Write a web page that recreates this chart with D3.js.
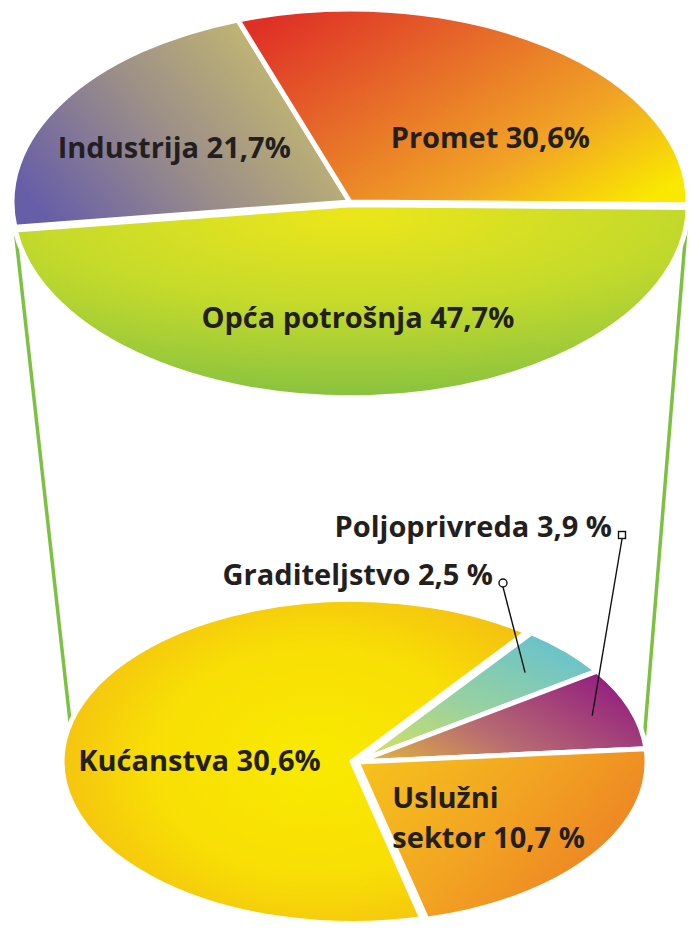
<!DOCTYPE html>
<html>
<head>
<meta charset="utf-8">
<script src="https://cdn.jsdelivr.net/npm/d3@7"></script>
<style>
  body { margin: 0; background: #fff; }
  text { font-family: "Open Sans", Roboto, sans-serif; font-weight: 700; fill: #231f20; }
</style>
</head>
<body>
<div id="chart"></div>
<script>
// top pie: energy use by sector
const topCategories = ["Industrija", "Promet", "Opća potrošnja"];
const topValues = [21.7, 30.6, 47.7];
const topLabels = [["Industrija 21,7%"], ["Promet 30,6%"], ["Opća potrošnja 47,7%"]];

// bottom pie: breakdown of "Opća potrošnja"
const subCategories = ["Graditeljstvo", "Poljoprivreda", "Uslužni sektor", "Kućanstva"];
const subValues = [2.5, 3.9, 10.7, 30.6];
const subLabels = [["Graditeljstvo 2,5 %"], ["Poljoprivreda 3,9 %"], ["Uslužni", "sektor 10,7 %"], ["Kućanstva 30,6%"]];

const W = 690, H = 930;
const rad = a => a * Math.PI / 180;

// ellipse layout (pie drawn as circle, squashed vertically)
const topPie = {cx: 350, cy: 202, rx: 338, ry: 193, start: -97.5};
const subPie = {cx: 357, cy: 762, rx: 290, ry: 162, start: 37};

const svg = d3.select("#chart").append("svg")
    .attr("width", W)
    .attr("height", H)
    .attr("viewBox", [0, 0, W, H]);

const defs = svg.append("defs");

function linear(id, x1, y1, x2, y2, stops) {
  const g = defs.append("linearGradient").attr("id", id)
      .attr("x1", x1).attr("y1", y1).attr("x2", x2).attr("y2", y2);
  stops.forEach(s => g.append("stop").attr("offset", s[0]).attr("stop-color", s[1]));
}
function radial(id, cx, cy, r, stops) {
  const g = defs.append("radialGradient").attr("id", id)
      .attr("cx", cx).attr("cy", cy).attr("r", r);
  stops.forEach(s => g.append("stop").attr("offset", s[0]).attr("stop-color", s[1]));
}

linear("g-ind", 0, 0.75, 1, 0.25, [[0, "#675ea8"], [0.45, "#9c8f88"], [1, "#cfc46a"]]);
linear("g-pro", 0, 0.15, 1, 0.85, [[0, "#df3026"], [0.35, "#e66a29"], [0.7, "#f1a325"], [1, "#f9e900"]]);
radial("g-opc", 0.5, 0.05, 0.95, [[0, "#ece61a"], [0.5, "#c4da2b"], [1, "#88c240"]]);
radial("g-kuc", 0.55, 0.5, 0.6, [[0, "#f9ea00"], [0.6, "#f8de05"], [1, "#f4bf12"]]);
linear("g-gra", 0.85, 0, 0.1, 1, [[0, "#63c1d0"], [0.55, "#98d1a0"], [1, "#d3e25e"]]);
linear("g-pol", 0, 0.9, 1, 0.35, [[0, "#e3b240"], [0.45, "#b66a72"], [1, "#95217f"]]);
linear("g-usl", 0, 0.1, 1, 0.6, [[0, "#f6c21c"], [0.5, "#f2a422"], [1, "#ec7f24"]]);

const topFill = ["url(#g-ind)", "url(#g-pro)", "url(#g-opc)"];
const subFill = ["url(#g-gra)", "url(#g-pol)", "url(#g-usl)", "url(#g-kuc)"];
const topExplode = [0, 0, 5];
const subExplode = [0, 0, 0, 5];

function ell(p, a, r) {
  return [p.cx + r * Math.sin(a), p.cy - r * Math.cos(a) * p.ry / p.rx];
}

function makePie(p, values) {
  return d3.pie().sort(null).value(d => d)
      .startAngle(rad(p.start)).endAngle(rad(p.start) + 2 * Math.PI)(values);
}

const topArcs = makePie(topPie, topValues);
const subArcs = makePie(subPie, subValues);

// green connector lines, behind the pies
const opca = topArcs[2];
const connectors = [
  [ell(topPie, opca.endAngle, topPie.rx), ell(subPie, rad(280), subPie.rx)],
  [ell(topPie, opca.startAngle, topPie.rx), ell(subPie, rad(82), subPie.rx)]
];
svg.append("g")
    .attr("stroke", "#7cc142")
    .attr("stroke-width", 3.5)
  .selectAll("line")
  .data(connectors)
  .join("line")
    .attr("x1", d => d[0][0]).attr("y1", d => d[0][1])
    .attr("x2", d => d[1][0]).attr("y2", d => d[1][1]);

function drawPie(p, arcs, fills, explode) {
  const arc = d3.arc().innerRadius(0).outerRadius(p.rx);
  svg.append("g")
      .attr("transform", `translate(${p.cx},${p.cy}) scale(1,${p.ry / p.rx})`)
    .selectAll("path")
    .data(arcs)
    .join("path")
      .attr("transform", (d, i) => {
        const m = (d.startAngle + d.endAngle) / 2;
        return `translate(${Math.sin(m) * explode[i]},${-Math.cos(m) * explode[i]})`;
      })
      .attr("d", arc)
      .attr("fill", (d, i) => fills[i])
      .attr("stroke", "#fff")
      .attr("stroke-width", 5)
      .attr("stroke-linejoin", "round")
      .attr("vector-effect", "non-scaling-stroke");
}

drawPie(topPie, topArcs, topFill, topExplode);
drawPie(subPie, subArcs, subFill, subExplode);

// labels: centroid at 60% radius, then nudged; one text per line
const fontSize = 29;
const lineGap = 40;
function label(p, d, lines, nudge, anchor) {
  const m = (d.startAngle + d.endAngle) / 2;
  const c = ell(p, m, p.rx * 0.6);
  lines.forEach((s, i) => svg.append("text")
      .attr("font-size", fontSize)
      .attr("text-anchor", anchor)
      .attr("x", c[0] + nudge[0])
      .attr("y", c[1] + nudge[1] + i * lineGap)
      .text(s));
}

const topNudge = [[-3, 17], [22, 40], [-4, 10]];
topArcs.forEach((d, i) => label(topPie, d, topLabels[i], topNudge[i], "middle"));

label(subPie, subArcs[3], subLabels[3], [13, 28], "middle");
label(subPie, subArcs[2], subLabels[2], [-106, -11], "start");

// callouts for the two thin slices
const callouts = [
  {i: 0, r: 0.8, at: [146, -179], shape: "circle"},
  {i: 1, r: 0.86, at: [265, -227], shape: "square"}
];
callouts.forEach(c => {
  const d = subArcs[c.i];
  const end = ell(subPie, (d.startAngle + d.endAngle) / 2, subPie.rx * c.r);
  const a = [subPie.cx + c.at[0], subPie.cy + c.at[1]];
  svg.append("line")
      .attr("x1", a[0]).attr("y1", a[1] + 4)
      .attr("x2", end[0]).attr("y2", end[1])
      .attr("stroke", "#111").attr("stroke-width", 1.4);
  if (c.shape === "circle") {
    svg.append("circle").attr("cx", a[0]).attr("cy", a[1]).attr("r", 4)
        .attr("fill", "#fff").attr("stroke", "#111").attr("stroke-width", 1.4);
  } else {
    svg.append("rect").attr("x", a[0] - 3.5).attr("y", a[1] - 3.5)
        .attr("width", 7).attr("height", 7)
        .attr("fill", "#fff").attr("stroke", "#111").attr("stroke-width", 1.4);
  }
  svg.append("text")
      .attr("font-size", fontSize)
      .attr("text-anchor", "end")
      .attr("x", a[0] - 10)
      .attr("y", a[1] + 2)
      .text(subLabels[c.i][0]);
});
</script>
</body>
</html>
